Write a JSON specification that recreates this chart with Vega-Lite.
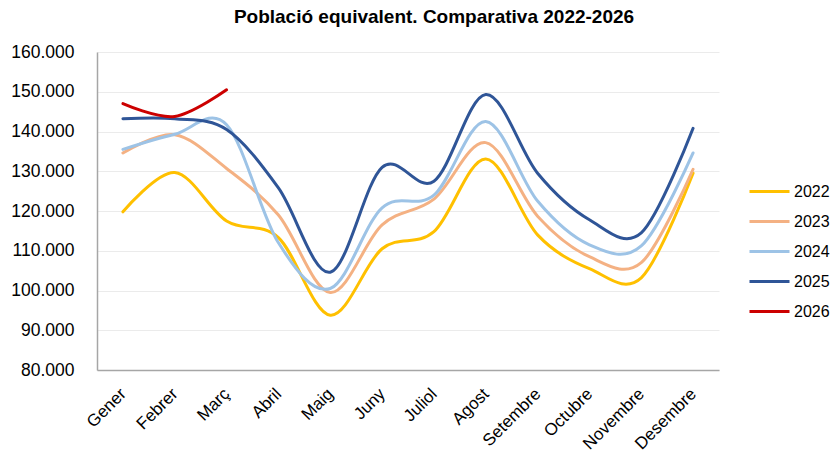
{
  "$schema": "https://vega.github.io/schema/vega-lite/v6.json",
  "autosize": {"type": "none"},
  "padding": {"left": 97, "top": 52, "right": 112, "bottom": 82},
  "width": 622,
  "height": 318,
  "background": "white",
  "title": {
    "text": "Població equivalent. Comparativa 2022-2026",
    "font": "Liberation Sans",
    "fontSize": 19,
    "fontWeight": "bold",
    "color": "#000000",
    "anchor": "middle",
    "frame": "group",
    "dx": 26,
    "baseline": "alphabetic",
    "offset": 1
  },
  "config": {
    "view": {"stroke": null},
    "font": "Liberation Sans"
  },
  "data": {
    "values": [
      {"mes": "Gener", "any": "2022", "valor": 119800},
      {"mes": "Febrer", "any": "2022", "valor": 129700},
      {"mes": "Març", "any": "2022", "valor": 117500},
      {"mes": "Abril", "any": "2022", "valor": 113300},
      {"mes": "Maig", "any": "2022", "valor": 93800},
      {"mes": "Juny", "any": "2022", "valor": 110500},
      {"mes": "Juliol", "any": "2022", "valor": 114800},
      {"mes": "Agost", "any": "2022", "valor": 133100},
      {"mes": "Setembre", "any": "2022", "valor": 114000},
      {"mes": "Octubre", "any": "2022", "valor": 105500},
      {"mes": "Novembre", "any": "2022", "valor": 103200},
      {"mes": "Desembre", "any": "2022", "valor": 129500},
      {"mes": "Gener", "any": "2023", "valor": 134600},
      {"mes": "Febrer", "any": "2023", "valor": 139200},
      {"mes": "Març", "any": "2023", "valor": 130700},
      {"mes": "Abril", "any": "2023", "valor": 119000},
      {"mes": "Maig", "any": "2023", "valor": 99500},
      {"mes": "Juny", "any": "2023", "valor": 116500},
      {"mes": "Juliol", "any": "2023", "valor": 123000},
      {"mes": "Agost", "any": "2023", "valor": 137200},
      {"mes": "Setembre", "any": "2023", "valor": 118700},
      {"mes": "Octubre", "any": "2023", "valor": 108500},
      {"mes": "Novembre", "any": "2023", "valor": 107000},
      {"mes": "Desembre", "any": "2023", "valor": 130500},
      {"mes": "Gener", "any": "2024", "valor": 135500},
      {"mes": "Febrer", "any": "2024", "valor": 139300},
      {"mes": "Març", "any": "2024", "valor": 141700},
      {"mes": "Abril", "any": "2024", "valor": 112000},
      {"mes": "Maig", "any": "2024", "valor": 100500},
      {"mes": "Juny", "any": "2024", "valor": 120800},
      {"mes": "Juliol", "any": "2024", "valor": 124000},
      {"mes": "Agost", "any": "2024", "valor": 142500},
      {"mes": "Setembre", "any": "2024", "valor": 122500},
      {"mes": "Octubre", "any": "2024", "valor": 111500},
      {"mes": "Novembre", "any": "2024", "valor": 111200},
      {"mes": "Desembre", "any": "2024", "valor": 134600},
      {"mes": "Gener", "any": "2025", "valor": 143200},
      {"mes": "Febrer", "any": "2025", "valor": 143200},
      {"mes": "Març", "any": "2025", "valor": 140500},
      {"mes": "Abril", "any": "2025", "valor": 125800},
      {"mes": "Maig", "any": "2025", "valor": 104600},
      {"mes": "Juny", "any": "2025", "valor": 131000},
      {"mes": "Juliol", "any": "2025", "valor": 127500},
      {"mes": "Agost", "any": "2025", "valor": 149300},
      {"mes": "Setembre", "any": "2025", "valor": 129500},
      {"mes": "Octubre", "any": "2025", "valor": 117800},
      {"mes": "Novembre", "any": "2025", "valor": 114500},
      {"mes": "Desembre", "any": "2025", "valor": 140800},
      {"mes": "Gener", "any": "2026", "valor": 147000},
      {"mes": "Febrer", "any": "2026", "valor": 143800},
      {"mes": "Març", "any": "2026", "valor": 150500}
    ]
  },
  "mark": {"type": "line", "interpolate": "cardinal", "strokeCap": "round"},
  "encoding": {
    "x": {
      "field": "mes",
      "type": "ordinal",
      "sort": ["Gener", "Febrer", "Març", "Abril", "Maig", "Juny", "Juliol", "Agost", "Setembre", "Octubre", "Novembre", "Desembre"],
      "scale": {"type": "point", "padding": 0.5},
      "axis": {
        "title": null,
        "labelAngle": -45,
        "labelAlign": "right",
        "labelBaseline": "middle",
        "labelPadding": 21,
        "labelFontSize": 17,
        "labelColor": "#000000",
        "ticks": false,
        "domainColor": "#a6a6a6",
        "domainWidth": 1.5,
        "grid": false
      }
    },
    "y": {
      "field": "valor",
      "type": "quantitative",
      "scale": {"domain": [80000, 160000], "nice": false, "zero": false},
      "axis": {
        "title": null,
        "values": [80000, 90000, 100000, 110000, 120000, 130000, 140000, 150000, 160000],
        "labelExpr": "format(datum.value / 1000, '.3f')",
        "labelFontSize": 17.5,
        "labelColor": "#000000",
        "labelPadding": 23,
        "ticks": false,
        "domainColor": "#a6a6a6",
        "domainWidth": 1.5,
        "grid": true,
        "gridColor": "#ebebeb",
        "gridWidth": 1
      }
    },
    "color": {
      "field": "any",
      "type": "nominal",
      "scale": {
        "domain": ["2022", "2023", "2024", "2025", "2026"],
        "range": ["#FFC000", "#F4B183", "#9DC3E6", "#2F5597", "#CC0000"]
      },
      "legend": {
        "title": null,
        "orient": "none",
        "legendX": 651,
        "legendY": 118,
        "symbolType": "stroke",
        "symbolSize": 1600,
        "symbolStrokeWidth": 3.5,
        "labelFontSize": 16,
        "labelColor": "#000000",
        "labelOffset": 3,
        "rowPadding": 0
      }
    },
    "strokeWidth": {
      "field": "any",
      "type": "nominal",
      "scale": {
        "domain": ["2022", "2023", "2024", "2025", "2026"],
        "range": [3, 3, 3, 3, 4.5]
      },
      "legend": null
    }
  }
}
